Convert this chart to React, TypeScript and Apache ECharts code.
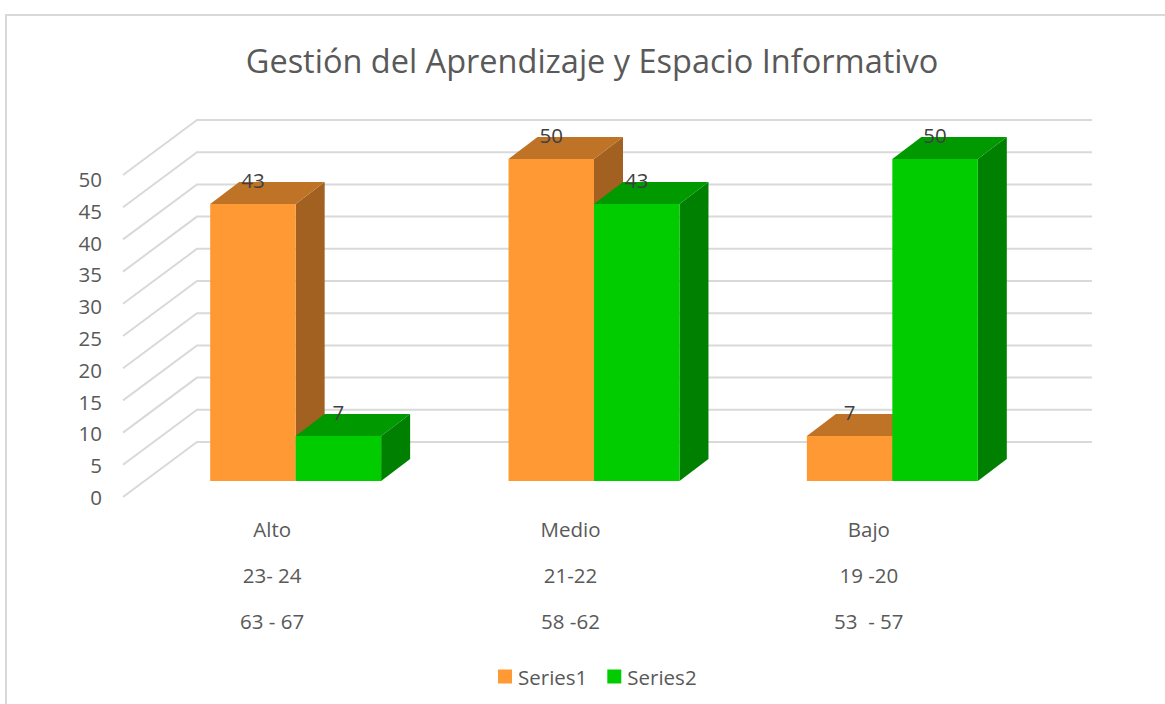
import React, { useEffect, useRef } from "react";
import * as echarts from "echarts";

const titleText = "Gestión del Aprendizaje y Espacio Informativo";
const levels = ["Alto", "Medio", "Bajo"];
const rangesA = ["23- 24", "21-22", "19 -20"];
const rangesB = ["63 - 67", "58 -62", "53  - 57"];
const series1Values = [43, 50, 7];
const series2Values = [7, 43, 50];
const yTicks = [0, 5, 10, 15, 20, 25, 30, 35, 40, 45, 50];

const FONT = "'Open Sans', sans-serif";
const TEXT = "#595959";
const GRID = "#d9d9d9";
const DEPTH_X = 74;
const DEPTH_Y = 55;
const BAR_SHIFT_X = 23.5;
const BAR_SHIFT_Y = 16;
const BAR_FRAC = 0.2865;
const BAR_DX = 29;
const BAR_DY = 22;

const categories = levels.map((l, i) => `${l}\n${rangesA[i]}\n${rangesB[i]}`);

function barRenderer(dir: number, front: string, top: string, side: string) {
  return (_params: any, api: any) => {
    const cat = api.value(0);
    const val = api.value(1);
    const w = api.size([1, 0])[0] * BAR_FRAC;
    const [cx, yTop0] = api.coord([cat, val]);
    const [, yBase0] = api.coord([cat, 0]);
    const c = cx + BAR_SHIFT_X;
    const yTop = yTop0 - BAR_SHIFT_Y;
    const yBase = yBase0 - BAR_SHIFT_Y;
    const x0 = dir < 0 ? c - w : c;
    const x1 = x0 + w;
    return {
      type: "group",
      children: [
        {
          type: "polygon",
          shape: { points: [[x1, yTop], [x1 + BAR_DX, yTop - BAR_DY], [x1 + BAR_DX, yBase - BAR_DY], [x1, yBase]] },
          style: { fill: side },
        },
        {
          type: "polygon",
          shape: { points: [[x0, yTop], [x0 + BAR_DX, yTop - BAR_DY], [x1 + BAR_DX, yTop - BAR_DY], [x1, yTop]] },
          style: { fill: top },
        },
        { type: "rect", shape: { x: x0, y: yTop, width: w, height: yBase - yTop }, style: { fill: front } },
        {
          type: "text",
          x: (x0 + x1) / 2,
          y: yTop - 24,
          z2: 50,
          style: {
            text: String(val),
            align: "center",
            verticalAlign: "middle",
            fontSize: 20.5,
            fontFamily: FONT,
            fill: "#404040",
          },
        },
      ],
    };
  };
}

function gridRenderer(params: any, api: any) {
  const v = api.value(0);
  const [, y] = api.coord([0, v]);
  const cs = params.coordSys;
  const style = { stroke: GRID, lineWidth: 2, fill: "none" };
  return {
    type: "polyline",
    shape: {
      points: [
        [cs.x, y],
        [cs.x + DEPTH_X, y - DEPTH_Y],
        [cs.x + cs.width + DEPTH_X, y - DEPTH_Y],
      ],
    },
    style,
  };
}

export default function App() {
  const ref = useRef<HTMLDivElement>(null);
  useEffect(() => {
    const chart = echarts.init(ref.current!, null, { renderer: "svg" });
    chart.setOption({
      animation: false,
      backgroundColor: "#ffffff",
      title: {
        text: titleText,
        left: 587,
        top: 39,
        textAlign: "center",
        textStyle: { fontFamily: FONT, fontSize: 32.5, fontWeight: "normal", color: TEXT },
      },
      graphic: [
        {
          type: "rect",
          shape: { x: 6, y: 15, width: 1175, height: 705 },
          style: { fill: "none", stroke: GRID, lineWidth: 2 },
          silent: true,
        },
      ],
      legend: {
        left: 493,
        top: 661,
        itemWidth: 14,
        itemHeight: 14,
        itemGap: 20,
        icon: "rect",
        textStyle: { fontFamily: FONT, fontSize: 20.5, color: TEXT, padding: [0, 0, 0, 1] },
        data: [
          { name: "Series1", itemStyle: { color: "#FF9933" } },
          { name: "Series2", itemStyle: { color: "#00CC00" } },
        ],
      },
      grid: [
        { left: 123, top: 175, width: 895, height: 322 },
        { left: 123, top: 179, width: 895, height: 318 },
      ],
      xAxis: [
        {
          gridIndex: 0,
          type: "category",
          data: categories,
          axisLine: { show: false },
          axisTick: { show: false },
          axisLabel: {
            interval: 0,
            margin: 9,
            lineHeight: 46,
            fontFamily: FONT,
            fontSize: 20.5,
            color: TEXT,
          },
        },
        { gridIndex: 1, type: "category", data: categories, show: false },
      ],
      yAxis: [
        {
          gridIndex: 0,
          type: "value",
          min: 0,
          max: 50,
          interval: 5,
          axisLabel: { show: false },
          axisLine: { show: false },
          axisTick: { show: false },
          splitLine: { show: false },
        },
        {
          gridIndex: 1,
          type: "value",
          min: 0,
          max: 50,
          interval: 5,
          axisLabel: { margin: 21, fontFamily: FONT, fontSize: 20.5, color: TEXT },
          axisLine: { show: false },
          axisTick: { show: false },
          splitLine: { show: false },
        },
      ],
      series: [
        {
          type: "custom",
          name: "grid",
          xAxisIndex: 0,
          yAxisIndex: 0,
          silent: true,
          clip: false,
          z: 1,
          renderItem: gridRenderer,
          encode: { y: 0 },
          data: yTicks.map((t) => [t]),
        },
        {
          type: "custom",
          name: "Series1",
          xAxisIndex: 0,
          yAxisIndex: 0,
          clip: false,
          z: 2,
          itemStyle: { color: "#FF9933" },
          renderItem: barRenderer(-1, "#FF9933", "#BF7326", "#A26120"),
          encode: { x: 0, y: 1 },
          data: series1Values.map((v, i) => [i, v]),
        },
        {
          type: "custom",
          name: "Series2",
          xAxisIndex: 0,
          yAxisIndex: 0,
          clip: false,
          z: 3,
          itemStyle: { color: "#00CC00" },
          renderItem: barRenderer(1, "#00CC00", "#009900", "#008000"),
          encode: { x: 0, y: 1 },
          data: series2Values.map((v, i) => [i, v]),
        },
      ],
    });
    return () => chart.dispose();
  }, []);
  return (
    <div
      ref={ref}
      style={{ position: "fixed", left: 0, top: 0, width: 1165, height: 704 }}
    />
  );
}
